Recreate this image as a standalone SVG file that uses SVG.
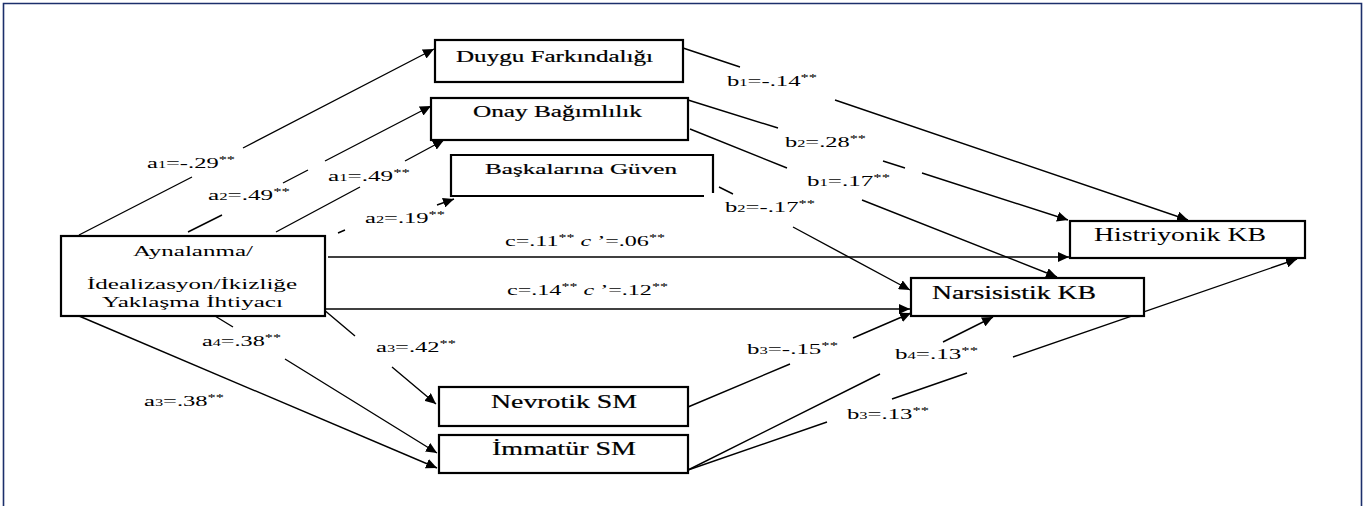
<svg xmlns="http://www.w3.org/2000/svg" width="1367" height="506" viewBox="0 0 1367 506">
<defs>
<marker id="ah" markerUnits="userSpaceOnUse" markerWidth="12" markerHeight="10" refX="11" refY="5" orient="auto">
<path d="M0,0 L11,5 L0,10 z" fill="#000"/>
</marker>
<style>
.box{fill:#fff;stroke:#000;stroke-width:2.2}
.ln{fill:none;stroke:#000;stroke-width:1.4}
.lb{font-size:15px}
.sb{font-size:10px}
.sp{font-size:10px}
.nt{stroke:#000;stroke-width:0.2}
</style>
</defs>
<rect x="0" y="0" width="1367" height="506" fill="#fff"/>
<path d="M3.5,510 L3.5,3.5 L1361.5,3.5 L1361.5,510" fill="none" stroke="#1c2f6b" stroke-width="1.6"/>

<g id="connectors">
<path class="ln" marker-end="url(#ah)" d="M79,235 L192,177 M243,148 L434,49"/>
<path class="ln" marker-end="url(#ah)" d="M188,232 L222,215 M283,183 L308,170 M325,161 L431,106"/>
<path class="ln" marker-end="url(#ah)" d="M276,232 L360,187 M405,161 L444,140"/>
<path class="ln" marker-end="url(#ah)" d="M338,233 L345,230 M437,205 L454,199"/>
<path class="ln" marker-end="url(#ah)" d="M683,48 L740,67 M835,100 L1188,220"/>
<path class="ln" marker-end="url(#ah)" d="M688,100 L778,128 M883,161 L905,168 M922,173 L1068,220"/>
<path class="ln" marker-end="url(#ah)" d="M690,129 L787,168 M862,200 L1057,277"/>
<path class="ln" marker-end="url(#ah)" d="M719,187 L733,194 M793,227 L910,290"/>
<path class="ln" marker-end="url(#ah)" d="M328,257 L1069,257"/>
<path class="ln" marker-end="url(#ah)" d="M325,309 L910,309"/>
<path class="ln" marker-end="url(#ah)" d="M688,407 L790,364 M853,338 L911,313"/>
<path class="ln" marker-end="url(#ah)" d="M688,470 L880,374 M943,342 L993,317"/>
<path class="ln" marker-end="url(#ah)" d="M688,470 L827,422 M892,399 L967,373 M1013,357 L1297,259"/>
<path class="ln" marker-end="url(#ah)" d="M215,316 L233,327 M285,359 L437,453"/>
<path class="ln" marker-end="url(#ah)" d="M323,309 L355,336 M392,367 L436,404"/>
<path class="ln" marker-end="url(#ah)" d="M79,316 L437,468"/>
</g>

<g id="labels" font-family="'Liberation Serif', 'DejaVu Serif', serif" fill="#000">
<text class="lb" x="147" y="168" textLength="88" lengthAdjust="spacingAndGlyphs">a<tspan class="sb">1</tspan>=-.29<tspan class="sp" baseline-shift="super">**</tspan></text>
<text class="lb" x="208" y="200" textLength="82" lengthAdjust="spacingAndGlyphs">a<tspan class="sb">2</tspan>=.49<tspan class="sp" baseline-shift="super">**</tspan></text>
<text class="lb" x="328" y="181" textLength="82" lengthAdjust="spacingAndGlyphs">a<tspan class="sb">1</tspan>=.49<tspan class="sp" baseline-shift="super">**</tspan></text>
<text class="lb" x="365" y="223" textLength="80" lengthAdjust="spacingAndGlyphs">a<tspan class="sb">2</tspan>=.19<tspan class="sp" baseline-shift="super">**</tspan></text>
<text class="lb" x="727" y="86" textLength="90" lengthAdjust="spacingAndGlyphs">b<tspan class="sb">1</tspan>=-.14<tspan class="sp" baseline-shift="super">**</tspan></text>
<text class="lb" x="785" y="147" textLength="81" lengthAdjust="spacingAndGlyphs">b<tspan class="sb">2</tspan>=.28<tspan class="sp" baseline-shift="super">**</tspan></text>
<text class="lb" x="807" y="186" textLength="83" lengthAdjust="spacingAndGlyphs">b<tspan class="sb">1</tspan>=.17<tspan class="sp" baseline-shift="super">**</tspan></text>
<text class="lb" x="725" y="212" textLength="90" lengthAdjust="spacingAndGlyphs">b<tspan class="sb">2</tspan>=-.17<tspan class="sp" baseline-shift="super">**</tspan></text>
<text class="lb" x="505" y="246" textLength="160" lengthAdjust="spacingAndGlyphs">c=.11<tspan class="sp" baseline-shift="super">**</tspan> <tspan font-style="italic">c</tspan> ’=.06<tspan class="sp" baseline-shift="super">**</tspan></text>
<text class="lb" x="507" y="295" textLength="161" lengthAdjust="spacingAndGlyphs">c=.14<tspan class="sp" baseline-shift="super">**</tspan> <tspan font-style="italic">c</tspan> ’=.12<tspan class="sp" baseline-shift="super">**</tspan></text>
<text class="lb" x="202" y="346" textLength="79" lengthAdjust="spacingAndGlyphs">a<tspan class="sb">4</tspan>=.38<tspan class="sp" baseline-shift="super">**</tspan></text>
<text class="lb" x="376" y="352" textLength="80" lengthAdjust="spacingAndGlyphs">a<tspan class="sb">3</tspan>=.42<tspan class="sp" baseline-shift="super">**</tspan></text>
<text class="lb" x="144" y="406" textLength="80" lengthAdjust="spacingAndGlyphs">a<tspan class="sb">3</tspan>=.38<tspan class="sp" baseline-shift="super">**</tspan></text>
<text class="lb" x="747" y="354" textLength="91" lengthAdjust="spacingAndGlyphs">b<tspan class="sb">3</tspan>=-.15<tspan class="sp" baseline-shift="super">**</tspan></text>
<text class="lb" x="895" y="359" textLength="83" lengthAdjust="spacingAndGlyphs">b<tspan class="sb">4</tspan>=.13<tspan class="sp" baseline-shift="super">**</tspan></text>
<text class="lb" x="847" y="419" textLength="82" lengthAdjust="spacingAndGlyphs">b<tspan class="sb">3</tspan>=.13<tspan class="sp" baseline-shift="super">**</tspan></text>
</g>

<g font-family="'Liberation Serif', 'DejaVu Serif', serif" fill="#000">
<g id="duygu">
<rect class="box" x="435" y="40" width="248" height="42"/>
<text class="nt" x="456" y="62" font-size="16" textLength="197" lengthAdjust="spacingAndGlyphs">Duygu Farkındalığı</text>
</g>
<g id="onay">
<rect class="box" x="431" y="98" width="257" height="42"/>
<text class="nt" x="473" y="117" font-size="16" textLength="169" lengthAdjust="spacingAndGlyphs">Onay Bağımlılık</text>
</g>
<g id="baskalarina">
<path d="M451,197 L451,155 L713,155 L713,193 M451,196 L704,196" fill="none" stroke="#000" stroke-width="2.2"/>
<text class="nt" x="485" y="174" font-size="15" textLength="192" lengthAdjust="spacingAndGlyphs">Başkalarına Güven</text>
</g>
<g id="aynalanma">
<rect class="box" x="61" y="236" width="264" height="80"/>
<text x="133" y="256" font-size="15" textLength="120" lengthAdjust="spacingAndGlyphs">Aynalanma/</text>
<text x="87" y="289" font-size="15" textLength="210" lengthAdjust="spacingAndGlyphs">İdealizasyon/İkizliğe</text>
<text x="102" y="307" font-size="15" textLength="181" lengthAdjust="spacingAndGlyphs">Yaklaşma İhtiyacı</text>
</g>
<g id="histriyonik">
<rect class="box" x="1070" y="221" width="235" height="37"/>
<text x="1094" y="241" font-size="18" textLength="172" lengthAdjust="spacingAndGlyphs">Histriyonik KB</text>
</g>
<g id="narsisistik">
<rect class="box" x="911" y="278" width="233" height="38"/>
<text class="nt" x="932" y="299" font-size="18" textLength="164" lengthAdjust="spacingAndGlyphs">Narsisistik KB</text>
</g>
<g id="nevrotik">
<rect class="box" x="439" y="387" width="249" height="39"/>
<text class="nt" x="491" y="408" font-size="18" textLength="146" lengthAdjust="spacingAndGlyphs">Nevrotik SM</text>
</g>
<g id="immatur">
<rect class="box" x="439" y="435" width="249" height="38"/>
<text class="nt" x="492" y="455" font-size="18" textLength="144" lengthAdjust="spacingAndGlyphs">İmmatür SM</text>
</g>
</g>
</svg>
